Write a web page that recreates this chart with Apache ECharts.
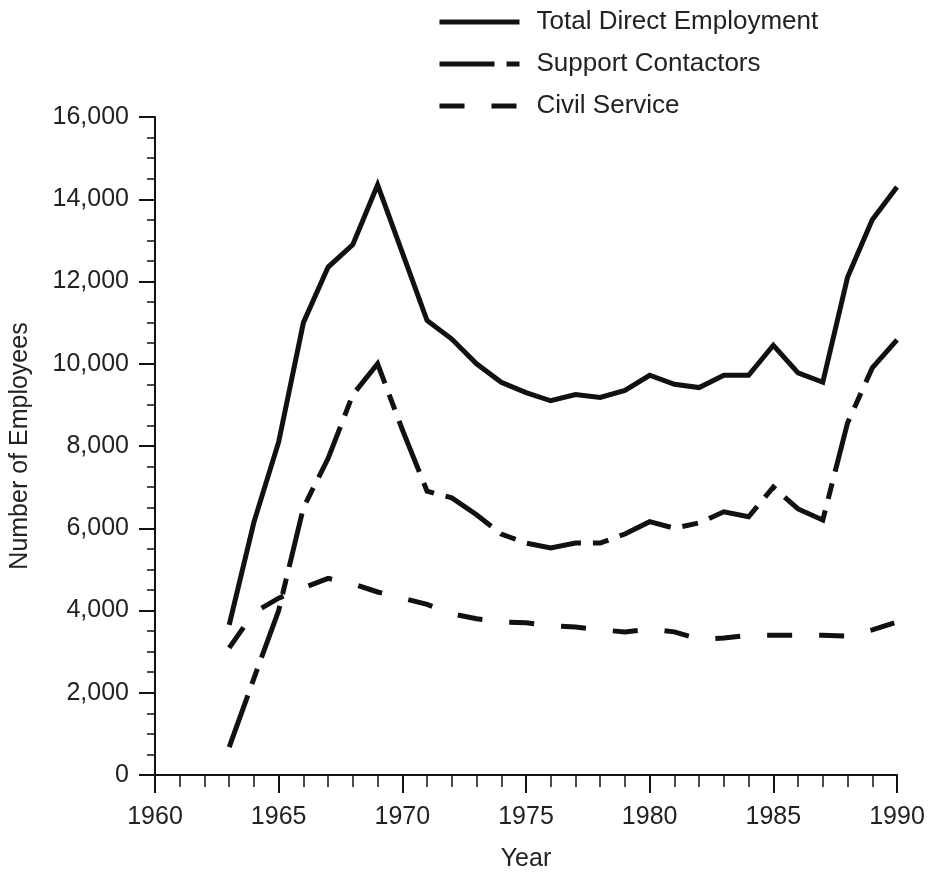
<!DOCTYPE html>
<html>
<head>
<meta charset="utf-8">
<script src="https://cdn.jsdelivr.net/npm/echarts@6/dist/echarts.min.js"></script>
<style>
  html, body { margin: 0; padding: 0; background: #fff; }
  #chart { width: 936px; height: 885px; }
</style>
</head>
<body>
<div id="chart"></div>
<script>
// values, one per year 1963..1990
const years = [1963, 1964, 1965, 1966, 1967, 1968, 1969, 1970, 1971, 1972, 1973, 1974, 1975, 1976,
  1977, 1978, 1979, 1980, 1981, 1982, 1983, 1984, 1985, 1986, 1987, 1988, 1989, 1990];
const totalDirect = [3650, 6150, 8100, 11000, 12350, 12900, 14350, 12700, 11050, 10600, 10000, 9550, 9300, 9100,
  9250, 9180, 9350, 9720, 9500, 9420, 9720, 9720, 10450, 9780, 9550, 12100, 13500, 14300];
const supportContractors = [680, 2350, 4000, 6500, 7700, 9250, 10000, 8400, 6900, 6740, 6330, 5860, 5640, 5520,
  5640, 5640, 5860, 6160, 6000, 6130, 6400, 6280, 7000, 6470, 6200, 8560, 9900, 10580];
const civilService = [3090, 3950, 4300, 4550, 4780, 4650, 4450, 4300, 4150, 3920, 3800, 3720, 3700, 3630,
  3600, 3530, 3480, 3550, 3480, 3300, 3330, 3400, 3400, 3400, 3400, 3380, 3530, 3720];

const seriesNames = ['Total Direct Employment', 'Support Contactors', 'Civil Service'];

const ink = '#111';
const font = 'Liberation Sans, Arial, Helvetica, sans-serif';

const chart = echarts.init(document.getElementById('chart'));

function lineSeries(name, values, dash) {
  return {
    name: name,
    type: 'line',
    data: values.map((v, i) => [years[i], v]),
    symbol: 'none',
    animation: false,
    itemStyle: {color: ink},
    lineStyle: {color: ink, width: 5, type: dash, cap: 'butt', join: 'miter'}
  };
}

chart.setOption({
  backgroundColor: '#fff',
  animation: false,
  grid: {left: 155, right: 39, top: 117, bottom: 110, containLabel: false},
  legend: {
    orient: 'vertical',
    left: 432,
    top: 4,
    icon: 'inherit',
    itemWidth: 80,
    itemHeight: 14,
    itemGap: 16,
    data: seriesNames,
    itemStyle: {opacity: 0},
    lineStyle: {width: 5, color: ink},
    textStyle: {color: '#222', fontSize: 26, fontFamily: font, padding: [0, 0, 0, 12]}
  },
  xAxis: {
    type: 'value',
    min: 1960,
    max: 1990,
    interval: 5,
    name: 'Year',
    nameLocation: 'middle',
    nameGap: 72,
    nameTextStyle: {color: '#222', fontSize: 25, fontFamily: font},
    axisLine: {lineStyle: {color: ink, width: 2}},
    axisTick: {length: 18, lineStyle: {color: ink, width: 2}},
    minorTick: {show: true, splitNumber: 5, length: 12, lineStyle: {color: ink, width: 1.5}},
    splitLine: {show: false},
    axisLabel: {color: '#222', fontSize: 25, fontFamily: font, margin: 30, formatter: v => String(v)}
  },
  yAxis: {
    type: 'value',
    min: 0,
    max: 16000,
    interval: 2000,
    name: 'Number of Employees',
    nameLocation: 'middle',
    nameGap: 122,
    nameTextStyle: {color: '#222', fontSize: 25, fontFamily: font},
    axisLine: {show: true, lineStyle: {color: ink, width: 2}},
    axisTick: {show: true, length: 16, lineStyle: {color: ink, width: 2}},
    minorTick: {show: true, splitNumber: 4, length: 8, lineStyle: {color: ink, width: 1.5}},
    splitLine: {show: false},
    axisLabel: {color: '#222', fontSize: 25, fontFamily: font, margin: 26}
  },
  series: [
    lineSeries(seriesNames[0], totalDirect, 'solid'),
    lineSeries(seriesNames[1], supportContractors, [55, 12, 16, 12]),
    lineSeries(seriesNames[2], civilService, [25, 27])
  ]
});
</script>
</body>
</html>
